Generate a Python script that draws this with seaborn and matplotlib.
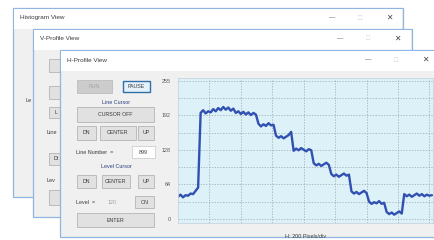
import numpy as np
import matplotlib
matplotlib.use("Agg")
import matplotlib.pyplot as plt
import seaborn as sns
from matplotlib.patches import Rectangle

sns.set_style("white")
plt.rcParams['font.family'] = ['Liberation Sans', 'DejaVu Sans']

# H-profile of one image row, sampled every 16 pixels (grey level 0-255)
step_px = 16
low_start = [41, 45, 40, 44, 43, 47, 46, 52, 58]
high_plateau = [196, 201, 195, 199, 197, 203, 199, 205, 201, 207, 202, 206,
                200, 204, 196, 199, 194, 198, 193, 197, 192, 196, 193]
step_174 = [176, 171, 175, 172, 177, 173, 174]
step_152 = [154, 150, 153, 149, 152, 155, 161]
step_128 = [126, 130, 127, 131, 128, 125, 129, 127]
step_101 = [103, 99, 102, 98, 101, 104, 100]
step_81 = [83, 79, 82, 78, 81, 84, 80, 82]
step_49 = [51, 47, 50, 46, 49, 52, 48]
step_30 = [32, 28, 31, 29, 33, 28, 30]
step_11 = [13, 9, 12, 8, 11, 14, 10]
low_end = [46, 42, 45, 41, 44, 47, 43, 46, 42, 45, 43, 44]

level_ticks = [0, 63.75, 127.5, 191.25, 255]
level_labels = ['0', '64', '128', '192', '255']
row_width = 1623

profile = (low_start + high_plateau + step_174 + step_152 + step_128 + step_101
           + step_81 + step_49 + step_30 + step_11 + low_end)
pixels = np.arange(len(profile)) * step_px

W, H = 435, 240
fig = plt.figure(figsize=(W / 100, H / 100), dpi=100)
fig.patch.set_facecolor('white')

# background layer in pixel coords for the window chrome
bg = fig.add_axes([0, 0, 1, 1])
bg.set_xlim(0, W)
bg.set_ylim(H, 0)
bg.axis('off')

frame = '#8fb6e0'
body = '#f0f0f0'
txt = '#3a3a3a'


def window(x, y, w, h, title, ctrl_x):
    bg.add_patch(Rectangle((x, y), w, h, facecolor=body, edgecolor=frame, lw=0.9))
    bg.add_patch(Rectangle((x + 0.6, y + 0.6), w - 1.2, 20, facecolor='white', edgecolor='none'))
    bg.text(x + 7, y + 10, title, fontsize=4.6, color=txt, va='center')
    bg.text(ctrl_x, y + 10, '\u2014', fontsize=4.6, color='#444', va='center', ha='center')
    bg.text(ctrl_x + 28, y + 10, '\u25a1', fontsize=5, color='#d2d2d2', va='center', ha='center')
    bg.text(ctrl_x + 57, y + 10, '\u2715', fontsize=5.5, color='#444', va='center', ha='center')


def button(x, y, w, h, label, face='#e1e1e1', edge='#b4b4b4', color=txt, lw=0.6):
    bg.add_patch(Rectangle((x, y), w, h, facecolor=face, edgecolor=edge, lw=lw))
    bg.text(x + w / 2, y + h / 2, label, fontsize=3.8, color=color, ha='center', va='center')


# Histogram View (back)
window(13, 8, 390, 189, 'Histogram View', 332)
bg.text(26, 101, 'Le', fontsize=4, color=txt, va='center')

# V-Profile View (middle)
window(33, 29, 379, 188, 'V-Profile View', 340)
button(49, 59, 14, 13, '')
button(49, 86, 14, 13, '')
button(49, 107, 14, 11, 'L')
bg.text(47, 132, 'Line', fontsize=4, color=txt, va='center')
button(49, 153, 14, 12, 'Dt')
bg.text(47, 180, 'Lev', fontsize=4, color=txt, va='center')
button(49, 190, 14, 15, '')

# H-Profile View (front)
window(60, 50, 380, 187, 'H-Profile View', 368)
button(77, 80, 35, 13, 'RUN', face='#cccccc', edge='#bdbdbd', color='#a5a5a5')
button(123, 81, 27, 11, 'PAUSE', face='#e5f1fb', edge='#2f6fa8', lw=1.0)
bg.text(116, 102, 'Line Cursor', fontsize=3.9, color='#2b3f7a', ha='center', va='center')
button(77, 107, 77, 15, 'CURSOR OFF')
button(77, 126, 19, 14, 'DN')
button(100, 126, 36, 14, 'CENTER')
button(138, 126, 16, 14, 'UP')
bg.text(76, 152, 'Line Number  =', fontsize=3.9, color=txt, va='center')
button(132, 146, 23, 12, '899', face='white', edge='#cfcfcf')
bg.text(116, 167, 'Level Cursor', fontsize=3.9, color='#2b3f7a', ha='center', va='center')
button(77, 175, 19, 13, 'DN')
button(102, 175, 28, 13, 'CENTER')
button(138, 175, 16, 13, 'UP')
bg.text(76, 202, 'Level  =', fontsize=3.9, color=txt, va='center')
bg.text(112, 202, '120', fontsize=3.9, color='#a0a0a0', va='center', ha='center')
button(135, 196, 19, 12, 'ON')
button(77, 213, 77, 14, 'ENTER')

# profile plot
ax = fig.add_axes([178 / W, 1 - 223 / H, 255 / W, 145 / H])
ax.set_facecolor('#dcf1f8')
sns.lineplot(x=pixels, y=profile, ax=ax, color='#3150b2', linewidth=1.7)
ax.set_xlim(0, row_width)
ax.set_ylim(-7.4, 260.5)
ax.set_xticks(np.arange(200, row_width, 200))
ax.set_xticklabels([])
ax.set_yticks(level_ticks)
ax.set_yticklabels(level_labels)
ax.set_yticks([31.875, 95.625, 159.375, 223.125], minor=True)
ax.grid(which='both', color='#9aa8ad', linestyle=(0, (2, 2)), linewidth=0.5)
ax.tick_params(axis='both', which='both', length=0, labelsize=3.9,
               labelcolor='#555555', pad=5)
ax.set_xlabel('H: 200 Pixels/div', fontsize=4, color=txt, labelpad=3)
ax.set_ylabel('')
for s in ax.spines.values():
    s.set_color('#c8d6dc')
    s.set_linewidth(0.6)

fig.savefig('out.png', dpi=100)
